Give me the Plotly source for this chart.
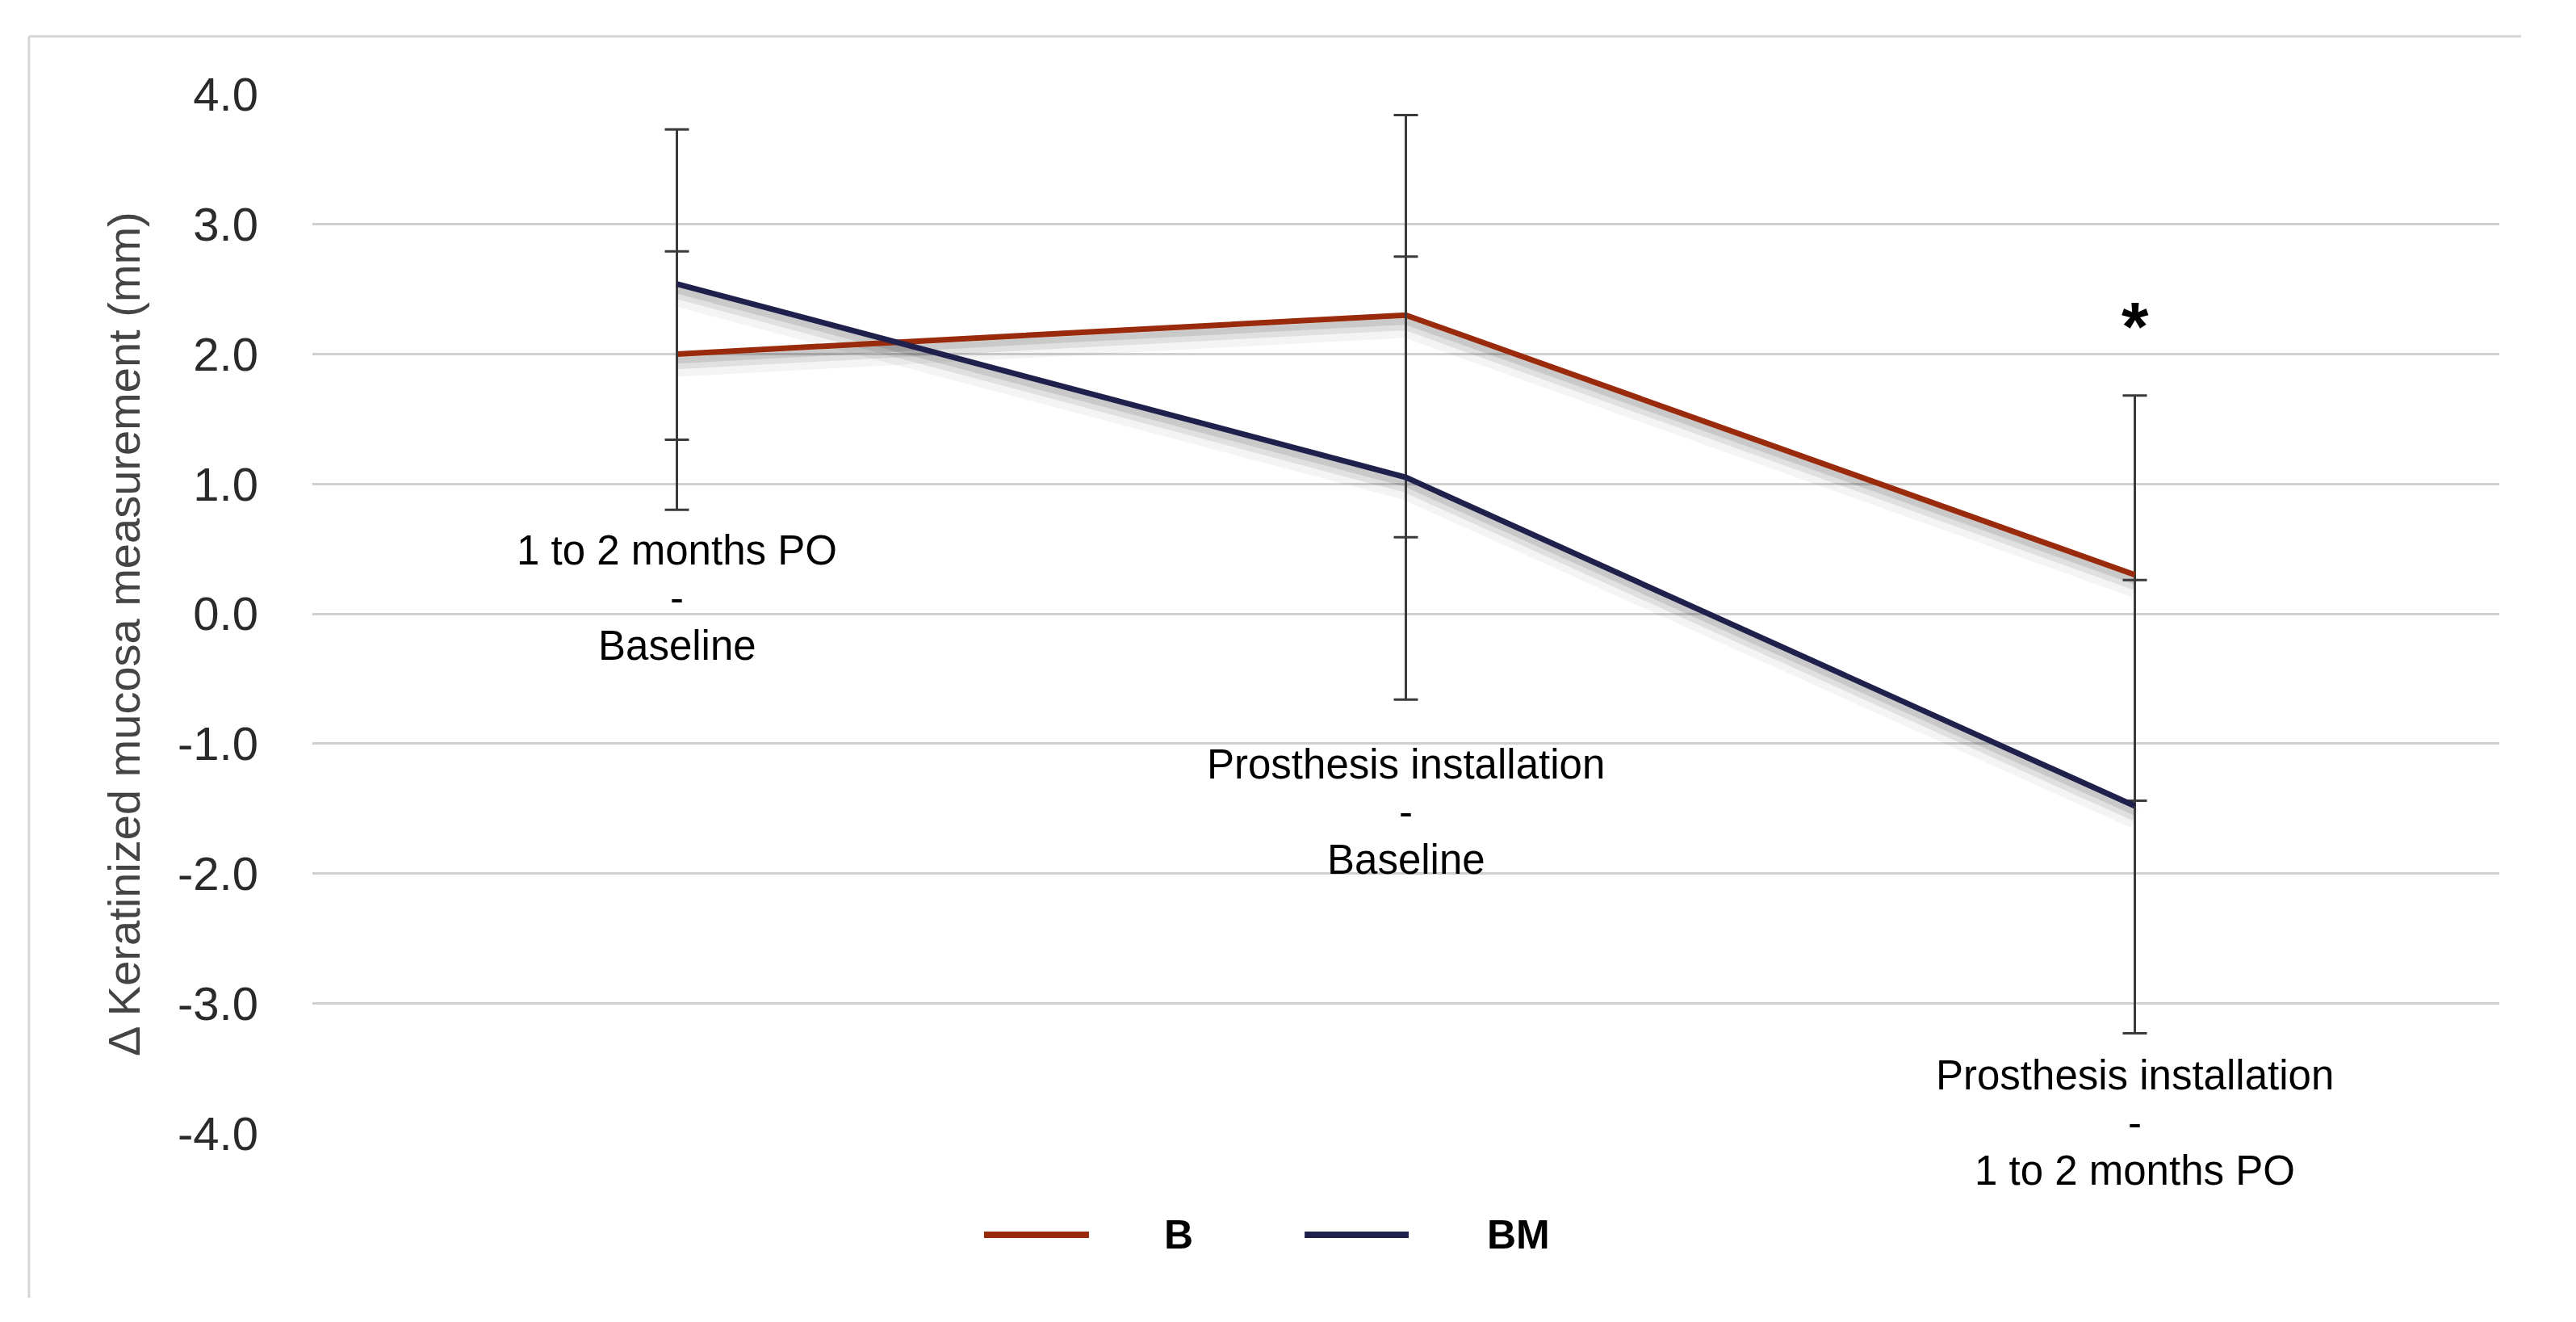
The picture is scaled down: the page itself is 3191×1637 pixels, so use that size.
import plotly.graph_objects as go

# ---------------- data ----------------
categories = [["1 to 2 months PO", "-", "Baseline"],
              ["Prosthesis installation", "-", "Baseline"],
              ["Prosthesis installation", "-", "1 to 2 months PO"]]
cat_ids = ["c1", "c2", "c3"]

b_mean = [2.00, 2.30, 0.30]
b_err_plus = [0.79, 1.54, 1.38]
b_err_minus = [1.20, 1.71, 1.74]

bm_mean = [2.54, 1.05, -1.48]
bm_err_plus = [1.19, 1.70, 1.74]
bm_err_minus = [1.20, 1.71, 1.75]

series_names = ["B", "BM"]
y_ticks = [-4, -3, -2, -1, 0, 1, 2, 3, 4]
y_tick_text = ["-4.0", "-3.0", "-2.0", "-1.0", "0.0", "1.0", "2.0", "3.0", "4.0"]
significant = [False, False, True]
y_title = "Δ Keratinized mucosa measurement (mm)"

# ---------------- style ----------------
RED = "#992a0c"
NAVY = "#20204c"
ERR = "#3a3a3a"
GRID = "#d0d0d0"
FONT = "Liberation Sans, Arial, Helvetica, sans-serif"

# page has an 8px body margin -> compensate
W, H = 3175, 1621
ML, MT = 379, 108
PW, PH = 2709, 1288
MR, MB = W - ML - PW, H - MT - PH

fig = go.Figure()

# soft drop shadows (derived from the series values)
for vals in (b_mean, bm_mean):
    for off, wdt, a in ((0.10, 24, 0.045), (0.07, 15, 0.08), (0.045, 9, 0.10)):
        fig.add_trace(go.Scatter(
            x=cat_ids, y=[v - off for v in vals], mode="lines",
            line=dict(color=f"rgba(0,0,0,{a})", width=wdt),
            hoverinfo="skip", showlegend=False))

def err(plus, minus):
    return dict(type="data", symmetric=False, array=plus, arrayminus=minus,
                color=ERR, thickness=3, width=15)

fig.add_trace(go.Scatter(x=cat_ids, y=b_mean, mode="lines", name=series_names[0],
                         line=dict(color=RED, width=7),
                         error_y=err(b_err_plus, b_err_minus), showlegend=False))
fig.add_trace(go.Scatter(x=cat_ids, y=bm_mean, mode="lines", name=series_names[1],
                         line=dict(color=NAVY, width=7),
                         error_y=err(bm_err_plus, bm_err_minus), showlegend=False))

annotations = []
# category labels placed below the lowest error bar end
first_offsets = [50, 80, 52]
LINE_STEP = 59
for i, (cid, lines) in enumerate(zip(cat_ids, categories)):
    low = min(b_mean[i] - b_err_minus[i], bm_mean[i] - bm_err_minus[i])
    for k, txt in enumerate(lines):
        annotations.append(dict(x=cid, y=low, xref="x", yref="y", text=txt,
                                showarrow=False, yanchor="middle", xanchor="center",
                                yshift=-(first_offsets[i] + k * LINE_STEP),
                                font=dict(family=FONT, size=51, color="#000000")))
    if significant[i]:
        high = max(b_mean[i] + b_err_plus[i], bm_mean[i] + bm_err_plus[i])
        annotations.append(dict(x=cid, y=high, xref="x", yref="y", text="<b>*</b>",
                                showarrow=False, yanchor="middle", xanchor="center",
                                yshift=86,
                                font=dict(family=FONT, size=86, color="#000000")))

# y-axis title
annotations.append(dict(x=-0.0860, y=0.4806, xref="paper", yref="paper", text=y_title,
                        textangle=-90, showarrow=False, xanchor="center", yanchor="middle",
                        font=dict(family=FONT, size=56, color="#444444")))

# custom legend
legend_items = [(series_names[0], RED, 0.3071, 0.3551, 0.3887),
                (series_names[1], NAVY, 0.4537, 0.5013, 0.5364)]
shapes = []
LY = -0.097
for name, col, x0, x1, tx in legend_items:
    shapes.append(dict(type="line", xref="paper", yref="paper", x0=x0, x1=x1,
                       y0=LY, y1=LY, line=dict(color=col, width=8)))
    annotations.append(dict(x=tx, y=LY, xref="paper", yref="paper", text=f"<b>{name}</b>",
                            showarrow=False, xanchor="left", yanchor="middle",
                            font=dict(family=FONT, size=50, color="#000000")))

# outer frame (top and left only)
FX0, FX1, FY0, FY1 = -0.1296, 1.0100, -0.1576, 1.0551
shapes.append(dict(type="line", xref="paper", yref="paper", x0=FX0, x1=FX1, y0=FY1, y1=FY1,
                   line=dict(color="#d6d6d6", width=3)))
shapes.append(dict(type="line", xref="paper", yref="paper", x0=FX0, x1=FX0, y0=FY0, y1=FY1,
                   line=dict(color="#d6d6d6", width=3)))

fig.update_layout(
    width=W, height=H,
    margin=dict(l=ML, r=MR, t=MT, b=MB, autoexpand=False),
    paper_bgcolor="white", plot_bgcolor="white",
    showlegend=False,
    annotations=annotations, shapes=shapes,
    xaxis=dict(type="category", categoryorder="array", categoryarray=cat_ids,
               range=[-0.5, 2.5], showticklabels=False, showgrid=False,
               zeroline=False, showline=False, ticks=""),
    yaxis=dict(range=[-4.005, 4.005], tickvals=y_ticks, ticktext=y_tick_text,
               showgrid=True, gridcolor=GRID, gridwidth=3, zeroline=False,
               showline=False, ticks="", ticklabelstandoff=66,
               tickfont=dict(family=FONT, size=58, color="#2a2a2a")),
)

fig.write_html("out.html")
